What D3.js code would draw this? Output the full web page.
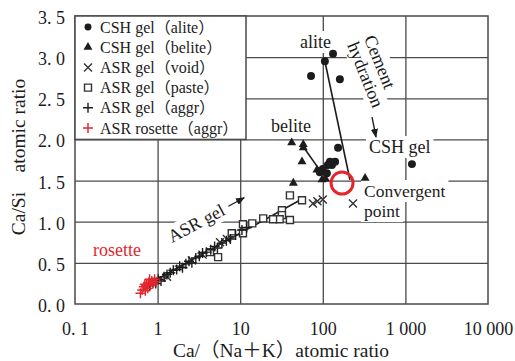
<!DOCTYPE html>
<html>
<head>
<meta charset="utf-8">
<script src="https://cdn.jsdelivr.net/npm/d3@7"></script>
<style>
  body { margin: 0; background: #fff; }
  svg { font-family: "Liberation Serif", "Noto Sans CJK JP", serif; }
</style>
</head>
<body>
<svg id="chart" width="515" height="361"></svg>
<script>
// ---- data ----
const xTicks = [0.1, 1, 10, 100, 1000, 10000];
const xTickLabels = ["0. 1", "1", "10", "100", "1 000", "10 000"];
const yTicks = [0, 0.5, 1, 1.5, 2, 2.5, 3, 3.5];
const yTickLabels = ["0. 0", "0. 5", "1. 0", "1. 5", "2. 0", "2. 5", "3. 0", "3. 5"];

const seriesNames = ["CSH gel（alite）", "CSH gel（belite）", "ASR gel（void）",
                     "ASR gel（paste）", "ASR gel（aggr）", "ASR rosette（aggr）"];

const cshAlite = [[133, 3.04], [106, 2.95], [72, 2.77], [161, 2.73], [153, 1.90], [1200, 1.70],
                  [122, 1.73], [141, 1.73], [129, 1.69], [115, 1.69], [100, 1.64], [92, 1.60], [112, 1.59]];
const cshBelite = [[42, 1.96], [58, 1.94], [58, 1.90], [56, 1.73], [85, 1.63], [98, 1.51],
                   [108, 1.52], [325, 1.53], [44, 1.47]];
const asrVoid = [[76, 1.22], [86, 1.25], [100, 1.27], [232, 1.22], [2.6, 0.53], [3.5, 0.60],
                 [5.7, 0.75], [6.9, 0.79], [1.3, 0.33]];
const asrPaste = [[40, 1.32], [56, 1.26], [32, 1.14], [32, 1.08], [40, 1.02], [30, 1.03], [25, 1.03],
                  [19, 1.04], [14, 0.98], [10.8, 0.97], [7.9, 0.86], [10.8, 0.86], [5.4, 0.57], [4.3, 0.63]];
const asrAggr = [[0.80, 0.22], [0.88, 0.26], [0.95, 0.25], [1.02, 0.30], [1.10, 0.28], [1.20, 0.33],
                 [1.30, 0.36], [1.42, 0.38], [1.55, 0.41], [1.70, 0.42], [1.85, 0.46], [2.0, 0.44],
                 [2.2, 0.49], [2.4, 0.52], [2.6, 0.50], [2.9, 0.56], [3.2, 0.58], [3.5, 0.62],
                 [3.9, 0.63], [4.4, 0.66], [4.9, 0.70], [5.3, 0.68], [6.0, 0.74], [6.8, 0.77],
                 [7.6, 0.79], [8.8, 0.84], [10.5, 0.90], [12, 0.93]];
const asrRosette = [[0.62, 0.13], [0.65, 0.17], [0.68, 0.21], [0.71, 0.16], [0.73, 0.23], [0.76, 0.19],
                    [0.78, 0.26], [0.82, 0.23], [0.85, 0.28], [0.88, 0.25], [0.92, 0.30], [0.96, 0.27],
                    [0.70, 0.24], [0.80, 0.30]];

// trend lines and convergent point
const aliteLine = [[106, 2.95], [213, 1.51]];
const beliteLine = [[58, 1.91], [96, 1.60]];
const asrLine = [[0.665, 0.207], [56, 1.276]];
const convergentPoint = [171, 1.47];

// ---- chart ----
const ink = "#1c1c1c", gridCol = "#4a4a4a", red = "#e3262c";
const plotL = 75, plotR = 488, plotT = 16, plotB = 304;

const svg = d3.select("#chart");
const x = d3.scaleLog().domain([0.1, 10000]).range([plotL, plotR]);
const y = d3.scaleLinear().domain([0, 3.5]).range([plotB, plotT]);

// grid lines
svg.append("g")
    .attr("transform", "translate(0," + plotB + ")")
    .call(d3.axisBottom(x).tickValues(xTicks.slice(1, -1)).tickSize(-(plotB - plotT)).tickFormat(""))
    .call(g => g.select(".domain").remove())
    .selectAll("line").attr("stroke", gridCol).attr("stroke-width", 1.3);
svg.append("g")
    .attr("transform", "translate(" + plotL + ",0)")
    .call(d3.axisLeft(y).tickValues(yTicks.slice(1, -1)).tickSize(-(plotR - plotL)).tickFormat(""))
    .call(g => g.select(".domain").remove())
    .selectAll("line").attr("stroke", gridCol).attr("stroke-width", 1.3);

// frame
svg.append("rect")
    .attr("x", plotL).attr("y", plotT)
    .attr("width", plotR - plotL).attr("height", plotB - plotT)
    .attr("fill", "none").attr("stroke", gridCol).attr("stroke-width", 1.5);

// tick labels
const xAxis = svg.append("g")
    .attr("transform", "translate(0," + plotB + ")")
    .call(d3.axisBottom(x).tickValues(xTicks).tickSize(0).tickFormat((d, i) => xTickLabels[i]));
xAxis.select(".domain").remove();
xAxis.selectAll("text").attr("dy", null).attr("y", 31)
    .attr("font-size", 18).attr("font-family", "Liberation Serif").attr("fill", ink);

const yAxis = svg.append("g")
    .attr("transform", "translate(" + plotL + ",0)")
    .call(d3.axisLeft(y).tickValues(yTicks).tickSize(0).tickFormat((d, i) => yTickLabels[i]));
yAxis.select(".domain").remove();
yAxis.selectAll("text").attr("x", -10).attr("dy", "0.42em")
    .attr("font-size", 18).attr("font-family", "Liberation Serif").attr("fill", ink);

// axis titles
svg.append("text")
    .attr("x", 281).attr("y", 357)
    .attr("text-anchor", "middle").attr("font-size", 19.5).attr("fill", ink)
    .text("Ca/（Na＋K）atomic ratio");
svg.append("text")
    .attr("transform", "translate(25,157) rotate(-90)")
    .attr("text-anchor", "middle").attr("font-size", 19.5).attr("fill", ink)
    .text("Ca/Si　atomic ratio");

// annotation helper: text with white box behind it
function label(g, tx, ty, str, size, color) {
    const t = g.append("text").attr("x", tx).attr("y", ty)
        .attr("font-size", size).attr("fill", color || ink).text(str);
    const b = t.node().getBBox();
    g.insert("rect", "text")
        .attr("x", b.x - 3).attr("y", b.y - 1)
        .attr("width", b.width + 6).attr("height", b.height + 2)
        .attr("fill", "#fff");
    return t;
}

const notes = svg.append("g");
label(notes.append("g"), 300, 48, "alite", 18);
label(notes.append("g"), 271, 132, "belite", 18);
label(notes.append("g"), 369, 153, "CSH gel", 18);
const conv = notes.append("g");
label(conv, 364, 197, "Convergent", 17.5);
label(conv, 364, 217, "point", 17.5);
label(notes.append("g"), 93, 256, "rosette", 18, red);

// rotated "Cement hydration"
const cem = notes.append("g").attr("transform", "translate(347,45) rotate(68)");
label(cem, 0, -18, "Cement", 18);
label(cem, 0, 0, "hydration", 18);

// rotated "ASR gel"
const asrLab = notes.append("g").attr("transform", "translate(172,243) rotate(-28)");
label(asrLab, 0, 0, "ASR gel", 18);

// arrows
svg.append("defs").append("marker")
    .attr("id", "head").attr("viewBox", "0 0 10 10")
    .attr("refX", 9).attr("refY", 5)
    .attr("markerWidth", 7).attr("markerHeight", 7)
    .attr("orient", "auto")
    .append("path").attr("d", "M0,1 L10,5 L0,9 Z").attr("fill", ink);

asrLab.append("line")
    .attr("x1", 67).attr("y1", -6).attr("x2", 85).attr("y2", -6)
    .attr("stroke", ink).attr("stroke-width", 1.3).attr("marker-end", "url(#head)");
svg.append("line")
    .attr("x1", 372).attr("y1", 117).attr("x2", 376).attr("y2", 137)
    .attr("stroke", ink).attr("stroke-width", 1.3).attr("marker-end", "url(#head)");

// legend
const legend = svg.append("g");
legend.append("rect")
    .attr("x", plotL).attr("y", plotT).attr("width", 171).attr("height", y(2) - plotT)
    .attr("fill", "#fff").attr("stroke", gridCol).attr("stroke-width", 1.5);

// marker shapes
const shapes = {
    circle: s => d3.symbol(d3.symbolCircle, s * s * 0.78)(),
    triangle: s => d3.symbol(d3.symbolTriangle, s * s * 0.43)(),
    square: s => d3.symbol(d3.symbolSquare, s * s)(),
    times: s => { const h = s / 2; return `M${-h},${-h}L${h},${h}M${-h},${h}L${h},${-h}`; },
    plus: s => { const h = s / 2; return `M${-h},0H${h}M0,${-h}V${h}`; }
};
function markers(g, data, shape, size, color) {
    const filled = shape === "circle" || shape === "triangle";
    g.selectAll(null).data(data).join("path")
        .attr("transform", d => "translate(" + x(d[0]) + "," + y(d[1]) + ")")
        .attr("d", shapes[shape](size))
        .attr("fill", filled ? color : (shape === "square" ? "#fff" : "none"))
        .attr("stroke", filled ? "none" : color)
        .attr("stroke-width", 1.4);
}

const legendShapes = ["circle", "triangle", "times", "square", "plus", "plus"];
const legendSizes = [7, 9, 8, 7, 10, 10];
const legendColors = [ink, ink, "#333", "#333", ink, red];
seriesNames.forEach((name, i) => {
    const cy = 27 + i * 20.2;
    const sh = legendShapes[i];
    const filled = sh === "circle" || sh === "triangle";
    legend.append("path")
        .attr("transform", "translate(88," + cy + ")")
        .attr("d", shapes[sh](legendSizes[i]))
        .attr("fill", filled ? legendColors[i] : (sh === "square" ? "#fff" : "none"))
        .attr("stroke", filled ? "none" : legendColors[i])
        .attr("stroke-width", 1.4);
    legend.append("text")
        .attr("x", 100).attr("y", cy + 5.5)
        .attr("font-size", 16).attr("fill", ink)
        .text(name);
});

// trend lines
const line = d3.line().x(d => x(d[0])).y(d => y(d[1]));
[aliteLine, beliteLine, asrLine].forEach(l => {
    svg.append("path").attr("d", line(l))
        .attr("fill", "none").attr("stroke", ink).attr("stroke-width", 1.6);
});

// data marks
const marks = svg.append("g");
markers(marks.append("g"), asrPaste, "square", 7, "#333");
markers(marks.append("g"), asrVoid, "times", 8, "#333");
markers(marks.append("g"), asrAggr, "plus", 10, ink);
markers(marks.append("g"), asrRosette, "plus", 10, red);
markers(marks.append("g"), cshBelite, "triangle", 9, ink);
markers(marks.append("g"), cshAlite, "circle", 8, ink);

// convergent point ring
svg.append("circle")
    .attr("cx", x(convergentPoint[0])).attr("cy", y(convergentPoint[1]))
    .attr("r", 11).attr("fill", "none").attr("stroke", red).attr("stroke-width", 3);
</script>
</body>
</html>
